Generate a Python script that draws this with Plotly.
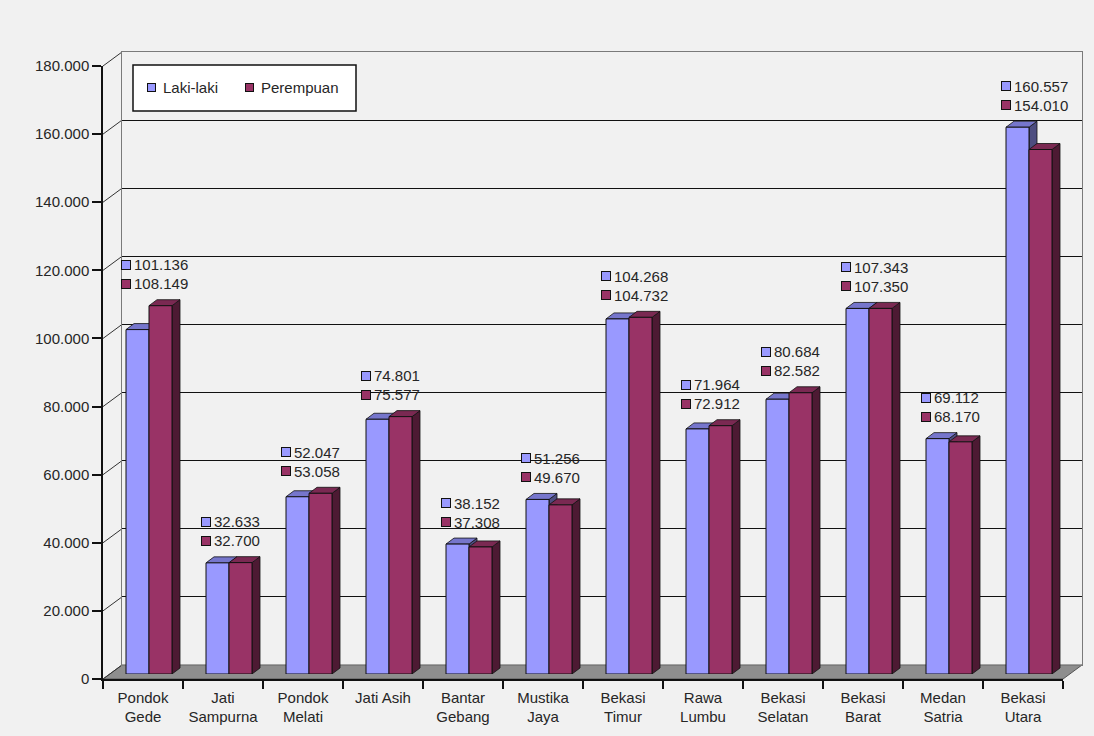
import plotly.graph_objects as go

# ---------------- data ----------------
categories = ["Pondok Gede", "Jati Sampurna", "Pondok Melati", "Jati Asih",
              "Bantar Gebang", "Mustika Jaya", "Bekasi Timur", "Rawa Lumbu",
              "Bekasi Selatan", "Bekasi Barat", "Medan Satria", "Bekasi Utara"]
tick_labels = ["Pondok<br>Gede", "Jati<br>Sampurna", "Pondok<br>Melati", "Jati Asih",
               "Bantar<br>Gebang", "Mustika<br>Jaya", "Bekasi<br>Timur", "Rawa<br>Lumbu",
               "Bekasi<br>Selatan", "Bekasi<br>Barat", "Medan<br>Satria", "Bekasi<br>Utara"]
laki_laki = [101136, 32633, 52047, 74801, 38152, 51256, 104268, 71964, 80684, 107343, 69112, 160557]
perempuan = [108149, 32700, 53058, 75577, 37308, 49670, 104732, 72912, 82582, 107350, 68170, 154010]
series_names = ["Laki-laki", "Perempuan"]
y_ticks = [0, 20000, 40000, 60000, 80000, 100000, 120000, 140000, 160000, 180000]
Y_MAX = 180000

# ---------------- styles / geometry ----------------
FRONT_COL = ["#9999FF", "#993366"]
TOP_COL = ["#7676cc", "#7a2952"]
SIDE_COL = ["#4d4d80", "#4d1a33"]
FONT = "Liberation Sans, Arial, sans-serif"
TXT = "#262626"
BG = "#f1f1f1"

FIG_W, FIG_H = 1094, 736
M_L, M_R, M_T, M_B = 103, 12, 52, 57
PW = FIG_W - M_L - M_R
PH = FIG_H - M_T - M_B
FRONT_W, FRONT_H = 960, 613
BACK_DX, BACK_DY = 19, 14
BAR_DX, BAR_DY = 6, 5
DEPTH_DX, DEPTH_DY = 8, 6
BARGAP = 0.425


def px(x_pix):
    return (x_pix - M_L) / PW


def py(y_pix):
    return (FIG_H - M_B - y_pix) / PH


n = len(categories)
idx = list(range(n))

fig = go.Figure()

# invisible traces so that the back-wall and front-axis subplots exist
fig.add_trace(go.Scatter(x=idx, y=[0] * n, mode="markers",
                         marker=dict(opacity=0), showlegend=False,
                         hoverinfo="skip", xaxis="x", yaxis="y"))
fig.add_trace(go.Scatter(x=categories, y=[0] * n, mode="markers",
                         marker=dict(opacity=0), showlegend=False,
                         hoverinfo="skip", xaxis="x3", yaxis="y3"))

for s, vals in enumerate([laki_laki, perempuan]):
    fig.add_trace(go.Bar(x=idx, y=vals, name=series_names[s], showlegend=False,
                         marker=dict(color=FRONT_COL[s], line=dict(color="#111", width=1)),
                         xaxis="x2", yaxis="y2", hoverinfo="skip"))

shapes = []
# floor
fx1 = FRONT_W / PW
by = BACK_DY / PH
bx = BACK_DX / PW
shapes.append(dict(type="path", xref="paper", yref="paper", layer="below",
                   path=f"M 0,0 L {fx1},0 L 1,{by} L {bx},{by} Z",
                   fillcolor="#8e8e8e", line=dict(color="#555", width=1)))
# diagonal connectors from front ticks to back wall
for v in y_ticks:
    y0 = v / Y_MAX * FRONT_H / PH
    shapes.append(dict(type="line", xref="paper", yref="paper", layer="below",
                       x0=0, y0=y0, x1=bx, y1=y0 + by,
                       line=dict(color="#333", width=1)))

# 3D faces of the bars (bar-axis data units)
bw = (1 - BARGAP) / 2
ddx = DEPTH_DX / FRONT_W * n
ddy = DEPTH_DY / FRONT_H * Y_MAX
for s, vals in enumerate([laki_laki, perempuan]):
    for i, v in enumerate(vals):
        xc = i + (s - 0.5) * bw
        xl, xr = xc - bw / 2, xc + bw / 2
        shapes.append(dict(type="path", xref="x2", yref="y2", layer="below",
                           path=f"M {xr},0 L {xr+ddx},{ddy} L {xr+ddx},{v+ddy} L {xr},{v} Z",
                           fillcolor=SIDE_COL[s], line=dict(color="#111", width=0.8)))
        shapes.append(dict(type="path", xref="x2", yref="y2", layer="below",
                           path=f"M {xl},{v} L {xr},{v} L {xr+ddx},{v+ddy} L {xl+ddx},{v+ddy} Z",
                           fillcolor=TOP_COL[s], line=dict(color="#111", width=0.8)))

annotations = []

# legend (box + keys)
shapes.append(dict(type="rect", xref="paper", yref="paper", layer="above",
                   x0=px(133), x1=px(356), y0=py(111), y1=py(65),
                   fillcolor="white", line=dict(color="#111", width=1.5)))
for s, (kx, tx) in enumerate([(147, 161), (245, 259)]):
    annotations.append(dict(x=px(kx), y=py(88), xref="paper", yref="paper", text=" ",
                            showarrow=False, xanchor="left", yanchor="middle",
                            width=7, height=7, font=dict(size=4), bgcolor=FRONT_COL[s],
                            bordercolor="#111", borderwidth=1, borderpad=0))
    annotations.append(dict(x=px(tx), y=py(88), xref="paper", yref="paper",
                            text=series_names[s], showarrow=False,
                            xanchor="left", yanchor="middle",
                            font=dict(size=15, color=TXT, family=FONT)))

# data labels
LABEL_DX = -22
for i, c in enumerate(categories):
    top = max(laki_laki[i], perempuan[i])
    for s, (vals, ys) in enumerate([(laki_laki, 46), (perempuan, 27)]):
        annotations.append(dict(x=c, y=top, xref="x3", yref="y3", text=" ",
                                showarrow=False, xanchor="left", yanchor="middle",
                                xshift=LABEL_DX, yshift=ys, width=8, height=8,
                                font=dict(size=4), bgcolor=FRONT_COL[s],
                                bordercolor="#111", borderwidth=1, borderpad=0))
        annotations.append(dict(x=c, y=top, xref="x3", yref="y3",
                                text=f"{vals[i]:,}".replace(",", "."),
                                showarrow=False, xanchor="left", yanchor="middle",
                                xshift=LABEL_DX + 11, yshift=ys,
                                font=dict(size=15, color=TXT, family=FONT)))

fig.update_layout(
    width=FIG_W, height=FIG_H,
    margin=dict(l=M_L, r=M_R, t=M_T, b=M_B, pad=0),
    paper_bgcolor=BG, plot_bgcolor="rgba(0,0,0,0)",
    separators=",.",
    barmode="group", bargap=BARGAP, bargroupgap=0,
    hovermode=False, showlegend=False,
    font=dict(family=FONT, size=15, color=TXT),
    shapes=shapes, annotations=annotations,
    # back wall
    xaxis=dict(domain=[bx, 1], range=[-0.5, n - 0.5], anchor="y",
               showgrid=False, zeroline=False, showticklabels=False, ticks="",
               showline=True, mirror=True, linecolor="#7a7a7a", linewidth=1.2),
    yaxis=dict(domain=[by, 1], range=[0, Y_MAX], anchor="x",
               tickvals=y_ticks, showgrid=True, gridcolor="#111", gridwidth=1.2,
               zeroline=False, showticklabels=False, ticks="",
               showline=True, mirror=True, linecolor="#7a7a7a", linewidth=1.2),
    # bars
    xaxis2=dict(domain=[BAR_DX / PW, (FRONT_W + BAR_DX) / PW], range=[-0.5, n - 0.5],
                anchor="y2", visible=False),
    yaxis2=dict(domain=[BAR_DY / PH, (FRONT_H + BAR_DY) / PH], range=[0, Y_MAX],
                anchor="x2", visible=False),
    # front axes
    xaxis3=dict(domain=[0, FRONT_W / PW], range=[-0.5, n - 0.5], anchor="y3",
                type="category", tickvals=categories, ticktext=tick_labels,
                tickson="boundaries", ticks="outside", ticklen=8, tickcolor="#111",
                tickwidth=1.5, showline=True, linecolor="#111", linewidth=1.5,
                showgrid=False, zeroline=False, ticklabelstandoff=4,
                tickfont=dict(size=15, color=TXT, family=FONT)),
    yaxis3=dict(domain=[0, FRONT_H / PH], range=[0, Y_MAX], anchor="x3",
                tickvals=y_ticks, tickformat=",d", ticks="outside", ticklen=9,
                tickcolor="#111", tickwidth=1.5, showline=True, linecolor="#111",
                linewidth=1.5, showgrid=False, zeroline=False,
                tickfont=dict(size=15, color=TXT, family=FONT)),
)

fig.write_html("out.html")
